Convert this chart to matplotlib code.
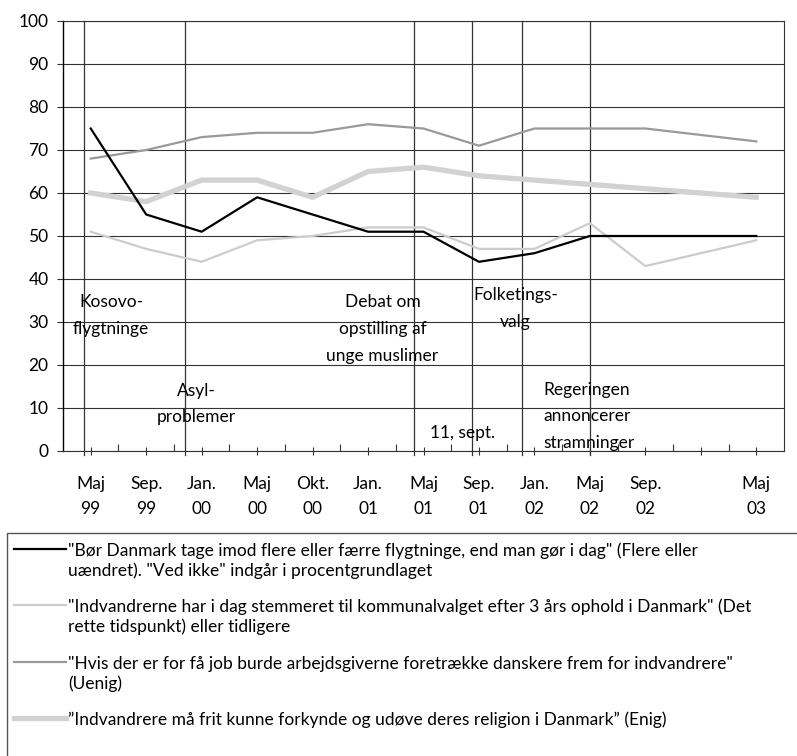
import matplotlib
matplotlib.use("Agg")
import matplotlib.pyplot as plt
import matplotlib.transforms as mtransforms
from matplotlib.lines import Line2D
from matplotlib.patches import Rectangle
import numpy as np

plt.rcParams["font.family"] = ["Lato", "DejaVu Sans"]

# categories (slot 11 is an empty month on the axis)
MONTHS = ["Maj", "Sep.", "Jan.", "Maj", "Okt.", "Jan.", "Maj", "Sep.", "Jan.", "Maj", "Sep.", "", "Maj"]
YEARS = ["99", "99", "00", "00", "00", "01", "01", "01", "02", "02", "02", "", "03"]

flygtninge = [75, 55, 51, 59, 55, 51, 51, 44, 46, 50, 50, 50]
stemmeret = [51, 47, 44, 49, 50, 52, 52, 47, 47, 53, 43, 49]
job = [68, 70, 73, 74, 74, 76, 75, 71, 75, 75, 75, 72]
religion = [60, 58, 63, 63, 59, 65, 66, 64, 63, 62, 61, 59]

LEGEND_TEXT = [
    ['"Bør Danmark tage imod flere eller færre flygtninge, end man gør i dag" (Flere eller',
     'uændret). "Ved ikke" indgår i procentgrundlaget'],
    ['"Indvandrerne har i dag stemmeret til kommunalvalget efter 3 års ophold i Danmark" (Det',
     'rette tidspunkt) eller tidligere'],
    ['"Hvis der er for få job burde arbejdsgiverne foretrække danskere frem for indvandrere"',
     '(Uenig)'],
    ['”Indvandrere må frit kunne forkynde og udøve deres religion i Danmark” (Enig)'],
]

# events: where the vertical line sits (category units) and its caption
EVENT_X = [-0.12, 1.705, 5.834, 6.88, 7.78, 9.0]
EVENT_TEXT = [["Kosovo-", "flygtninge"], ["Asyl-", "problemer"],
              ["Debat om", "opstilling af", "unge muslimer"], ["11, sept."],
              ["Folketings-", "valg"], ["Regeringen", "annoncerer", "stramninger"]]
# caption anchor (x in categories, y of first line), alignment
EVENT_POS = [(0.365, 34.9, "center"), (1.898, 14.4, "center"), (5.261, 34.9, "center"),
             (6.703, 4.6, "center"), (7.656, 36.6, "center"), (8.16, 14.6, "left")]

W, H = 797, 756
fig = plt.figure(figsize=(W / 100, H / 100), dpi=100)
ax = fig.add_axes([63 / W, 1 - 451 / H, (784 - 63) / W, (451 - 21) / H])

xs = [i for i, m in enumerate(MONTHS) if m]
ax.plot(xs, religion, color="#d2d2d2", lw=3.8, zorder=3)
ax.plot(xs, stemmeret, color="#cccccc", lw=1.6, zorder=3)
ax.plot(xs, job, color="#999999", lw=1.6, zorder=3)
ax.plot(xs, flygtninge, color="black", lw=1.6, zorder=4)

ax.set_xlim(-0.5, len(MONTHS) - 0.5)
ax.set_ylim(0, 100)
ax.set_yticks(range(0, 101, 10))
ax.yaxis.grid(True, color="#333333", lw=0.8)
ax.set_axisbelow(True)
ax.tick_params(axis="y", length=4.5, width=0.8, pad=6, labelsize=12.5, color="#333333")

ax.set_xticks(range(len(MONTHS)))
ax.set_xticklabels([])
ax.set_xticks(np.arange(0.5, len(MONTHS) - 1, 1.0), minor=True)
ax.tick_params(axis="x", which="major", direction="inout", length=6, width=0.8, color="#333333")
ax.tick_params(axis="x", which="minor", direction="in", length=5, width=0.8, color="#333333")

for sp in ["top", "right", "bottom"]:
    ax.spines[sp].set_color("#333333")
    ax.spines[sp].set_linewidth(0.8)
ax.spines["left"].set_color("black")
ax.spines["left"].set_linewidth(1.0)

# two-row category labels
tb = mtransforms.blended_transform_factory(ax.transData, ax.transAxes)
for i, (m, y) in enumerate(zip(MONTHS, YEARS)):
    ax.text(i, -0.0737, m, transform=tb, ha="center", va="center_baseline", fontsize=12.5)
    ax.text(i, -0.132, y, transform=tb, ha="center", va="center_baseline", fontsize=12.5)

# event lines and captions
for x in EVENT_X:
    ax.plot([x, x], [-1, 100], color="#333333", lw=0.9, zorder=2, clip_on=False)
for lines, (x, y, ha) in zip(EVENT_TEXT, EVENT_POS):
    for k, t in enumerate(lines):
        ax.annotate(t, (x, y), xytext=(0, -k * 19.2), textcoords="offset points",
                    ha=ha, va="center_baseline", fontsize=12.5, zorder=5)

# legend box below the chart, drawn in figure pixels
px = mtransforms.Affine2D().scale(1 / W, -1 / H).translate(0, 1) + fig.transFigure
fig.add_artist(Rectangle((7, 533), 900, 300, transform=px, fill=False,
                         edgecolor="#555555", lw=1.0))
styles = [("black", 1.6), ("#cccccc", 1.6), ("#999999", 1.6), ("#d2d2d2", 3.8)]
rows = [549, 605, 662, 718]
for (c, lw), y0, lines in zip(styles, rows, LEGEND_TEXT):
    fig.add_artist(Line2D([14, 66], [y0, y0], color=c, lw=lw, transform=px))
    for k, t in enumerate(lines):
        fig.text(68, y0 + k * 20.5, t, transform=px, ha="left", va="center_baseline",
                 fontsize=12.5)

fig.savefig("out.png", dpi=100)
